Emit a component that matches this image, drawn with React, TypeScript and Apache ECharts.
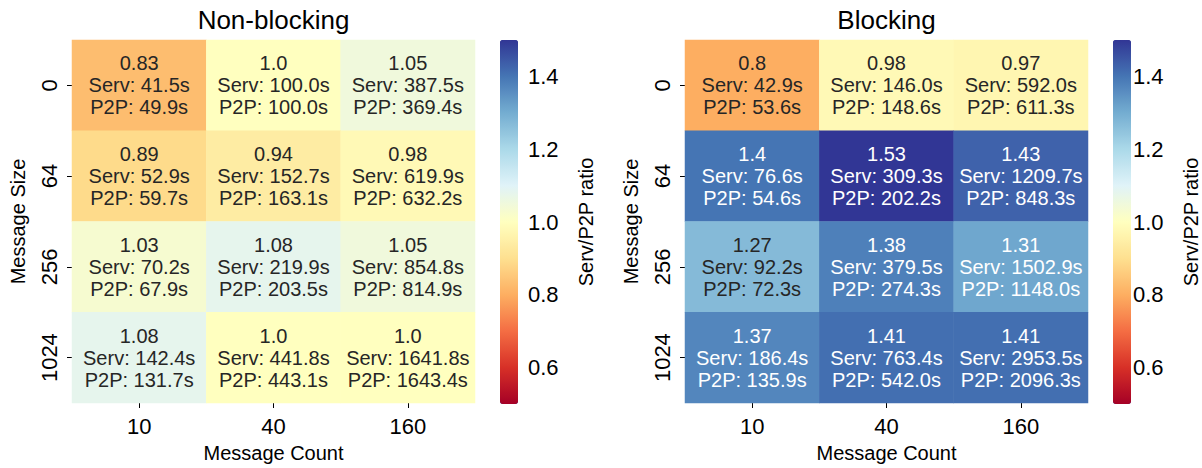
import React, { useEffect, useRef } from "react";
import * as echarts from "echarts";

const messageCounts = ["10", "40", "160"];
const messageSizes = ["0", "64", "256", "1024"];
const colorbarTicks = [0.6, 0.8, 1.0, 1.2, 1.4];

// rows = message size, cols = message count
const nbRatio = [
  [0.83, 1.0, 1.05],
  [0.89, 0.94, 0.98],
  [1.03, 1.08, 1.05],
  [1.08, 1.0, 1.0],
];
const nbServ = [
  [41.5, 100.0, 387.5],
  [52.9, 152.7, 619.9],
  [70.2, 219.9, 854.8],
  [142.4, 441.8, 1641.8],
];
const nbP2P = [
  [49.9, 100.0, 369.4],
  [59.7, 163.1, 632.2],
  [67.9, 203.5, 814.9],
  [131.7, 443.1, 1643.4],
];

const bRatio = [
  [0.8, 0.98, 0.97],
  [1.4, 1.53, 1.43],
  [1.27, 1.38, 1.31],
  [1.37, 1.41, 1.41],
];
const bServ = [
  [42.9, 146.0, 592.0],
  [76.6, 309.3, 1209.7],
  [92.2, 379.5, 1502.9],
  [186.4, 763.4, 2953.5],
];
const bP2P = [
  [53.6, 148.6, 611.3],
  [54.6, 202.2, 848.3],
  [72.3, 274.3, 1148.0],
  [135.9, 542.0, 2096.3],
];

const RdYlBu = [
  "#a50026", "#d73027", "#f46d43", "#fdae61", "#fee090", "#ffffbf",
  "#e0f3f8", "#abd9e9", "#74add1", "#4575b4", "#313695",
];

const FONT = "'Liberation Sans', Arial, Helvetica, sans-serif";

function fmtRatio(r: number) {
  return Number.isInteger(r) ? r.toFixed(1) : String(r);
}

function textColor(r: number) {
  return r > 1.29 || r < 0.62 ? "#ffffff" : "#262626";
}

function buildData(ratio: number[][], serv: number[][], p2p: number[][]) {
  const out: any[] = [];
  for (let yi = 0; yi < messageSizes.length; yi++) {
    for (let xi = 0; xi < messageCounts.length; xi++) {
      const r = ratio[yi][xi];
      out.push({
        value: [xi, yi, r, serv[yi][xi], p2p[yi][xi]],
        label: { color: textColor(r) },
      });
    }
  }
  return out;
}

const GRID_TOP = 40;
const GRID_H = 364;
const panels = [
  { title: "Non-blocking", hmLeft: 72, cbLeft: 500 },
  { title: "Blocking", hmLeft: 685, cbLeft: 1113 },
];
const HM_W = 403;
const CB_W = 18;

export default function App() {
  const ref = useRef<HTMLDivElement>(null);
  useEffect(() => {
    if (!ref.current) return;
    const chart = echarts.init(ref.current, undefined, { renderer: "svg" });

    const grids: any[] = [];
    const xAxes: any[] = [];
    const yAxes: any[] = [];
    const series: any[] = [];
    const visualMaps: any[] = [];
    const titles: any[] = [];
    const datasets = [
      buildData(nbRatio, nbServ, nbP2P),
      buildData(bRatio, bServ, bP2P),
    ];

    panels.forEach((p, i) => {
      grids.push({ left: p.hmLeft, top: GRID_TOP, width: HM_W, height: GRID_H });
      grids.push({ left: p.cbLeft, top: GRID_TOP, width: CB_W, height: GRID_H });
      const gHm = i * 2;
      const gCb = i * 2 + 1;
      xAxes.push({
        type: "category",
        gridIndex: gHm,
        data: messageCounts,
        axisLine: { show: false },
        axisTick: { show: true, alignWithLabel: true, length: 5, lineStyle: { color: "#000" } },
        axisLabel: { fontSize: 22, color: "#000", margin: 12, fontFamily: FONT },
        splitLine: { show: false },
        name: "Message Count",
        nameLocation: "middle",
        nameGap: 40,
        nameTextStyle: { fontSize: 20, color: "#000", fontFamily: FONT },
      });
      xAxes.push({ type: "value", gridIndex: gCb, show: false, min: 0, max: 1 });
      yAxes.push({
        type: "category",
        gridIndex: gHm,
        data: messageSizes,
        inverse: true,
        axisLine: { show: false },
        axisTick: { show: true, alignWithLabel: true, length: 5, lineStyle: { color: "#000" } },
        axisLabel: { fontSize: 22, color: "#000", margin: 12, rotate: 90, fontFamily: FONT },
        splitLine: { show: false },
        name: "Message Size",
        nameLocation: "middle",
        nameGap: 44,
        nameRotate: 90,
        nameTextStyle: { fontSize: 20, color: "#000", fontFamily: FONT },
      });
      yAxes.push({
        type: "value",
        gridIndex: gCb,
        position: "right",
        min: 0.5,
        max: 1.5,
        axisLine: { show: false },
        splitLine: { show: false },
        axisTick: {
          show: true,
          length: 5,
          customValues: colorbarTicks,
          lineStyle: { color: "#000" },
        },
        axisLabel: {
          customValues: colorbarTicks,
          formatter: (v: number) => v.toFixed(1),
          fontSize: 22,
          color: "#000",
          margin: 10,
          fontFamily: FONT,
        },
        name: "Serv/P2P ratio",
        nameLocation: "middle",
        nameGap: 58,
        nameRotate: 90,
        nameTextStyle: { fontSize: 20, color: "#000", fontFamily: FONT },
      });
      series.push({
        type: "heatmap",
        xAxisIndex: gHm,
        yAxisIndex: gHm,
        data: datasets[i],
        label: {
          show: true,
          fontSize: 20,
          lineHeight: 22,
          fontFamily: FONT,
          formatter: (pr: any) => {
            const v = pr.value;
            return `${fmtRatio(v[2])}\nServ: ${v[3].toFixed(1)}s\nP2P: ${v[4].toFixed(1)}s`;
          },
        },
        emphasis: { disabled: true },
      });
      visualMaps.push({
        type: "continuous",
        seriesIndex: i,
        dimension: 2,
        min: 0.5,
        max: 1.5,
        calculable: false,
        hoverLink: false,
        realtime: false,
        text: null,
        showLabel: false,
        left: p.cbLeft,
        top: GRID_TOP,
        itemWidth: CB_W,
        itemHeight: GRID_H,
        padding: 0,
        inRange: { color: RdYlBu },
        outOfRange: { color: ["#313695"] },
      });
      titles.push({
        text: p.title,
        left: p.hmLeft + HM_W / 2,
        textAlign: "center",
        top: 7,
        padding: 0,
        textStyle: { fontSize: 26, fontWeight: "normal", color: "#000", fontFamily: FONT },
      });
    });

    chart.setOption({
      animation: false,
      backgroundColor: "#ffffff",
      textStyle: { fontFamily: FONT },
      title: titles,
      grid: grids,
      xAxis: xAxes,
      yAxis: yAxes,
      visualMap: visualMaps,
      series,
    });
    return () => chart.dispose();
  }, []);
  return (
    <div
      ref={ref}
      style={{ position: "absolute", left: 0, top: 0, width: 1202, height: 468 }}
    />
  );
}
